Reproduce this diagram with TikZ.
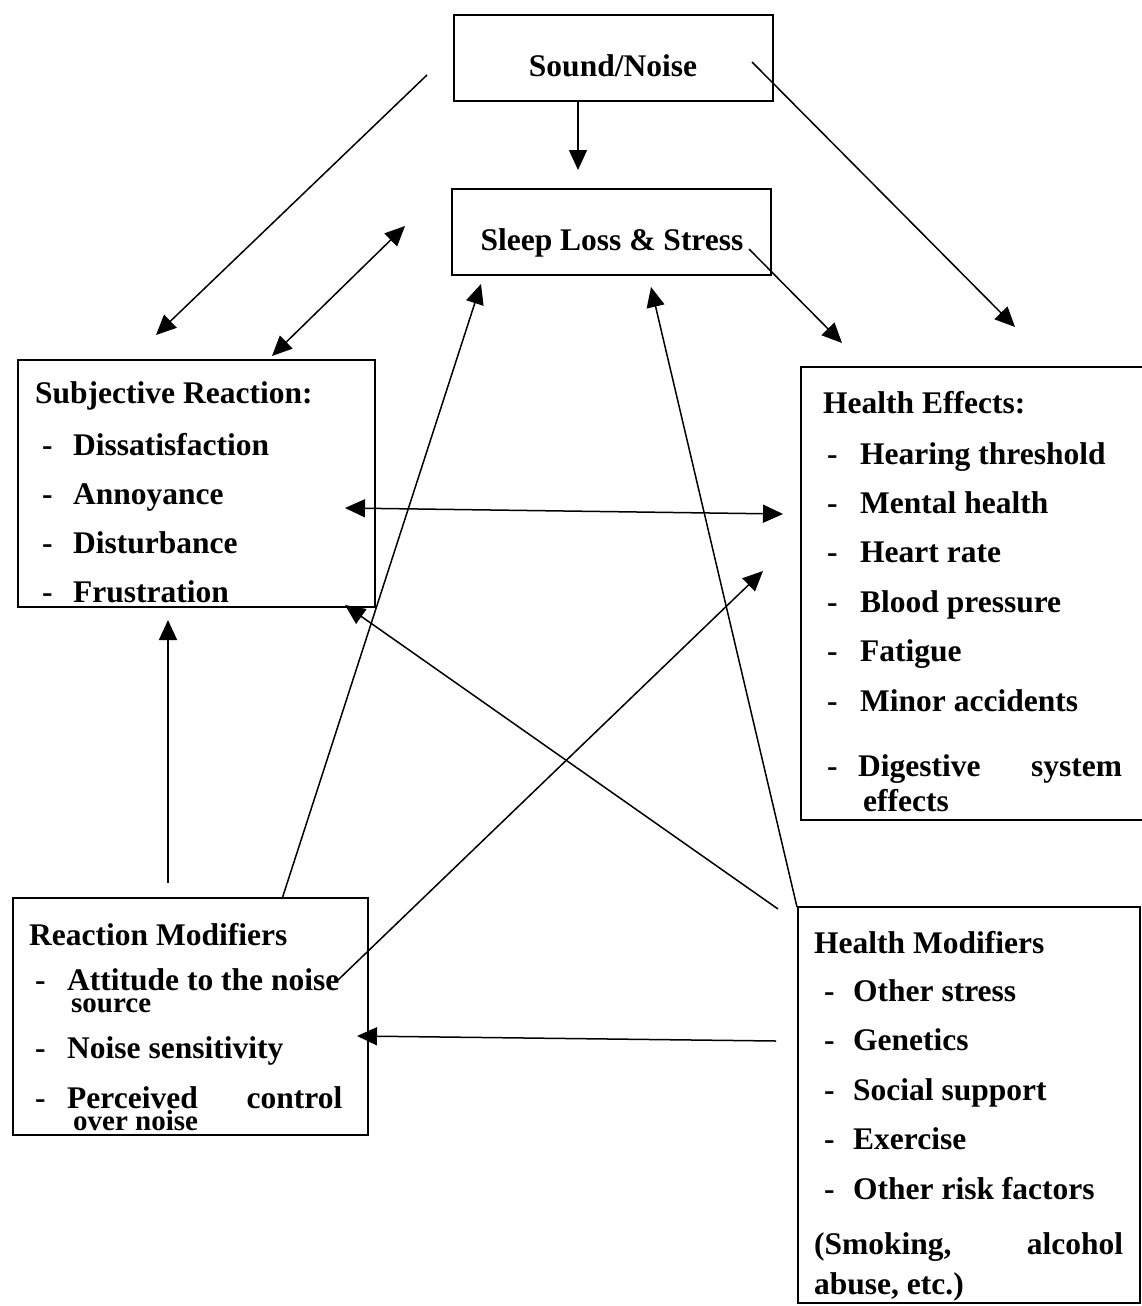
\documentclass[tikz,border=0pt]{standalone}
\usepackage{fontspec}
\setmainfont{Liberation Serif}
\usetikzlibrary{arrows.meta}
\begin{document}
\begin{tikzpicture}[x=1pt,y=-1pt,
  box/.style={draw,line width=1.6pt,inner sep=0pt,outer sep=0pt},
  txt/.style={font=\fontsize{31.5}{37}\selectfont\bfseries,inner sep=0pt,anchor=base west},
  small/.style={txt,font=\fontsize{29}{34}\selectfont\bfseries},
  ctxt/.style={txt,anchor=base},
  arr/.style={line width=1.5pt,-{Triangle[length=20pt,width=18pt]}},
  darr/.style={line width=1.5pt,{Triangle[length=20pt,width=18pt]}-{Triangle[length=20pt,width=18pt]}}]
\useasboundingbox (0,0) rectangle (1141,1306);
% boxes
\node[box,minimum width=319pt,minimum height=86pt] (sound) at (613.5,58) {};
\node[box,minimum width=319pt,minimum height=86pt] (sleep) at (611.5,232) {};
\node[box,minimum width=357pt,minimum height=247pt] (subj) at (196.5,483.5) {};
\node[box,minimum width=342pt,minimum height=453pt] (heff) at (972,593.5) {};
\node[box,minimum width=355pt,minimum height=237pt] (rmod) at (190.5,1016.5) {};
\node[box,minimum width=342pt,minimum height=396pt] (hmod) at (969,1105) {};
% texts
\node[ctxt] (tsound) at (613,77) {Sound/Noise};
\node[ctxt] (tsleep) at (612,250) {Sleep Loss \& Stress};
\node[txt] (s0) at (35,403) {Subjective Reaction:};
\node[txt] (s1) at (42,455) {\makebox[31pt][l]{-}Dissatisfaction};
\node[txt] (s2) at (42,504) {\makebox[31pt][l]{-}Annoyance};
\node[txt] (s3) at (42,553) {\makebox[31pt][l]{-}Disturbance};
\node[txt] (s4) at (42,602) {\makebox[31pt][l]{-}Frustration};
\node[txt] (h0) at (823,413) {Health Effects:};
\node[txt] (h1) at (827,464) {\makebox[33pt][l]{-}Hearing threshold};
\node[txt] (h2) at (827,513) {\makebox[33pt][l]{-}Mental health};
\node[txt] (h3) at (827,562) {\makebox[33pt][l]{-}Heart rate};
\node[txt] (h4) at (827,612) {\makebox[33pt][l]{-}Blood pressure};
\node[txt] (h5) at (827,661) {\makebox[33pt][l]{-}Fatigue};
\node[txt] (h6) at (827,711) {\makebox[33pt][l]{-}Minor accidents};
\node[txt] (h7) at (827,776) {\makebox[295pt][s]{\makebox[31pt][l]{-}Digestive\hfill system}};
\node[txt] (h8) at (863,811) {effects};
\node[txt] (r0) at (29,945) {Reaction Modifiers};
\node[txt] (r1) at (35,990) {\makebox[32pt][l]{-}Attitude to the noise};
\node[small] (r1b) at (71,1012) {source};
\node[txt] (r2) at (35,1058) {\makebox[32pt][l]{-}Noise sensitivity};
\node[txt] (r3) at (35,1108) {\makebox[307pt][s]{\makebox[32pt][l]{-}Perceived\hfill control}};
\node[small] (r3b) at (73,1130) {over noise};
\node[txt] (m0) at (814,953) {Health Modifiers};
\node[txt] (m1) at (824,1001) {\makebox[29pt][l]{-}Other stress};
\node[txt] (m2) at (824,1050) {\makebox[29pt][l]{-}Genetics};
\node[txt] (m3) at (824,1100) {\makebox[29pt][l]{-}Social support};
\node[txt] (m4) at (824,1149) {\makebox[29pt][l]{-}Exercise};
\node[txt] (m5) at (824,1199) {\makebox[29pt][l]{-}Other risk factors};
\node[txt] (m6) at (814,1254) {\makebox[309pt][s]{(Smoking,\hfill alcohol}};
\node[txt] (m7) at (814,1294) {abuse, etc.)};
% connector end points
\coordinate (a1s) at (578,100);  \coordinate (a1e) at (578,170);
\coordinate (a2s) at (427,75);   \coordinate (a2e) at (156,335);
\coordinate (a3s) at (272,356);  \coordinate (a3e) at (405,226);
\coordinate (a4s) at (752,62);   \coordinate (a4e) at (1015,327);
\coordinate (a5s) at (749,249);  \coordinate (a5e) at (842,343);
\coordinate (a6s) at (345,508);  \coordinate (a6e) at (783,514);
\coordinate (a7s) at (168,883);  \coordinate (a7e) at (168,620);
\coordinate (a8s) at (282,899);  \coordinate (a8e) at (481,284);
\coordinate (a9s) at (338,980);  \coordinate (a9e) at (763,571);
\coordinate (a10s) at (778,909); \coordinate (a10e) at (345,605);
\coordinate (a11s) at (797,907); \coordinate (a11e) at (651,287);
\coordinate (a12s) at (776,1041);\coordinate (a12e) at (357,1036);
% connectors
\draw[arr] (a1s) -- (a1e);
\draw[arr] (a2s) -- (a2e);
\draw[darr] (a3s) -- (a3e);
\draw[arr] (a4s) -- (a4e);
\draw[arr] (a5s) -- (a5e);
\draw[darr] (a6s) -- (a6e);
\draw[arr] (a7s) -- (a7e);
\draw[arr] (a8s) -- (a8e);
\draw[arr] (a9s) -- (a9e);
\draw[arr] (a10s) -- (a10e);
\draw[arr] (a11s) -- (a11e);
\draw[arr] (a12s) -- (a12e);
\end{tikzpicture}
\end{document}
